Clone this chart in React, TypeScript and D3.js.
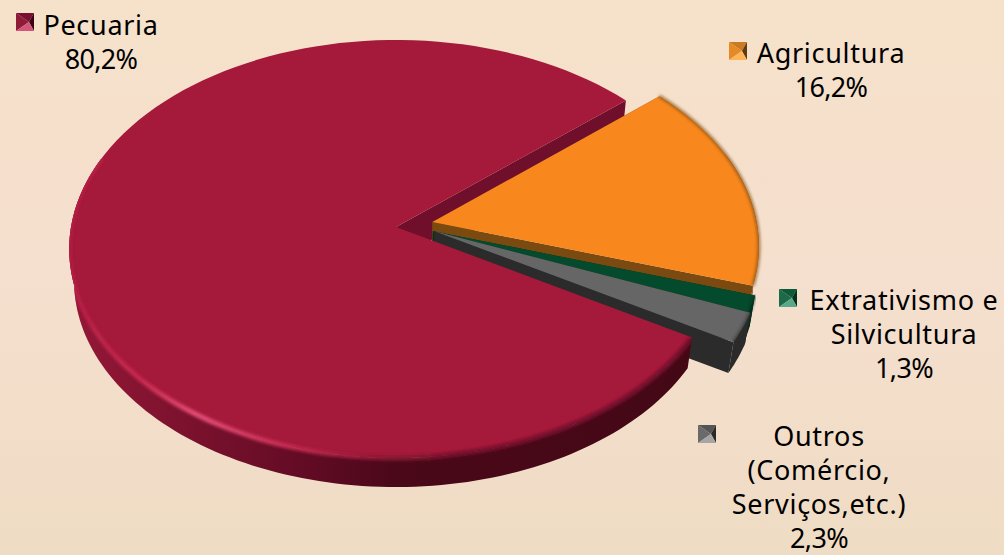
import React, { useMemo } from "react";
import * as d3 from "d3";

const categories = ["Pecuaria", "Agricultura", "Extrativismo e Silvicultura", "Outros"];
const shares = [80.2, 16.2, 1.3, 2.3];
const shareLabels = ["80,2%", "16,2%", "1,3%", "2,3%"];
const labelLines = [["Pecuaria"], ["Agricultura"], ["Extrativismo e", "Silvicultura"], ["Outros", "(Comércio,", "Serviços,etc.)"]];

const topColors = ["#a5193a", "#f8871e", "#044a2c", "#666666"];
const wallColors = ["#6f0f2b", "#7a4a10", "#01301c", "#2b2b2b"];
const explode = [0, 0.115, 0.115, 0.12];
const explodeDeg = [0, 78, 100, 100];

// marker faces: top, left, right, bottom
const markerFaces = [
	["#7a1030", "#8e1a38", "#3c0514", "#d2557a"],
	["#c97a22", "#e58a25", "#5e3a10", "#ffb45a"],
	["#0a5a3a", "#1a6a4a", "#02301c", "#5aa88a"],
	["#555", "#6a6a6a", "#2a2a2a", "#a5a5a5"],
];

const width = 1004;
const height = 555;
const startDeg = 120.4;

// perspective of the pie disc
const apex = [396, 227];
const radiusX = 325;
const radiusY = 206.7;
const tilt = 0.1053;
const vanishY = 2392;
const shrink = 0.985;

const project = (X: number, Y: number): [number, number] => {
	const w = 1 - tilt * Y;
	return [apex[0] + (radiusX * X) / w, apex[1] + (radiusY * Y) / w];
};
const drop = (p: [number, number]): [number, number] => [
	apex[0] + (p[0] - apex[0]) * shrink,
	vanishY + (p[1] - vanishY) * shrink,
];

const labelSpots = [
	{ cx: 101, y: 35, mx: 16, my: 13 },
	{ cx: 831, y: 63, mx: 729, my: 42 },
	{ cx: 904, y: 310, mx: 779, my: 289 },
	{ cx: 819, y: 446, mx: 698, my: 425 },
];
const lineStep = 34;

const line = d3.line<[number, number]>();

function marker(i: number) {
	const s = labelSpots[i];
	const m = 18;
	const c: [number, number] = [s.mx + m * 0.72, s.my + m * 0.5];
	const a: [number, number] = [s.mx, s.my];
	const b: [number, number] = [s.mx + m, s.my];
	const d: [number, number] = [s.mx + m, s.my + m];
	const e: [number, number] = [s.mx, s.my + m];
	const faces = [[a, b, c], [a, c, e], [b, d, c], [e, c, d]] as [number, number][][];
	return (
		<g filter="url(#softer)">
			{faces.map((f, k) => (
				<path key={k} d={line(f) + "Z"} fill={markerFaces[i][k]} />
			))}
		</g>
	);
}

export default function App() {
	const slices = useMemo(() => {
		const start = (startDeg * Math.PI) / 180;
		const full = 2 * Math.PI;
		const arcs = d3
			.pie<number>()
			.sort(null)
			.startAngle(start)
			.endAngle(start + full)(shares);
		return arcs.map((a, i) => {
			// slices after the first wrap past a full turn
			const wrap = a.startAngle >= full ? full : 0;
			const a0 = a.startAngle - wrap;
			const a1 = a.endAngle - wrap;
			const dir = (explodeDeg[i] * Math.PI) / 180;
			const ox = explode[i] * Math.sin(dir);
			const oy = -explode[i] * Math.cos(dir);
			const at = (t: number) => project(ox + Math.sin(t), oy - Math.cos(t));
			const rimBetween = (t0: number, t1: number) =>
				d3.range(0, 121).map((k) => at(t0 + ((t1 - t0) * k) / 120));
			const centre = project(ox, oy);
			const rim = rimBetween(a0, a1);
			const front0 = Math.max(a0, (70 * Math.PI) / 180);
			const front1 = Math.min(a1, (290 * Math.PI) / 180);
			const frontRim = rimBetween(front0, front1);
			const first = at(a0);
			const last = at(a1);
			return {
				i,
				top: line([centre, ...rim]) + "Z",
				rimEdge: line(rim)!,
				frontEdge: line(frontRim)!,
				rimWall: line([...frontRim, ...frontRim.map(drop).reverse()]) + "Z",
				startCut: line([centre, first, drop(first), drop(centre)]) + "Z",
				endCut: line([centre, last, drop(last), drop(centre)]) + "Z",
			};
		});
	}, []);

	const [main, ...rest] = slices;

	return (
		<svg
			width={width}
			height={height}
			viewBox={`0 0 ${width} ${height}`}
			style={{ position: "absolute", left: 0, top: 0 }}
			fontFamily="'Noto Sans', sans-serif"
		>
			<defs>
				<linearGradient id="bg" x1="0" y1="0" x2="0" y2="1">
					<stop offset="0" stopColor="#f6e1ca" />
					<stop offset="0.5" stopColor="#f5dfce" />
					<stop offset="1" stopColor="#efdcc4" />
				</linearGradient>
				<linearGradient id="mainWall" gradientUnits="userSpaceOnUse" x1="68" y1="0" x2="700" y2="0">
					<stop offset="0" stopColor="#951838" />
					<stop offset="0.15" stopColor="#80132f" />
					<stop offset="0.35" stopColor="#660c26" />
					<stop offset="0.52" stopColor="#4a0819" />
					<stop offset="1" stopColor="#440815" />
				</linearGradient>
				<linearGradient id="mainBevel" gradientUnits="userSpaceOnUse" x1="68" y1="0" x2="700" y2="0">
					<stop offset="0" stopColor="#b01c42" />
					<stop offset="0.12" stopColor="#c9284f" />
					<stop offset="0.2" stopColor="#e44c76" />
					<stop offset="0.35" stopColor="#c22a50" />
					<stop offset="0.5" stopColor="#8a1432" />
					<stop offset="0.62" stopColor="#70102a" />
					<stop offset="1" stopColor="#70102a" />
				</linearGradient>
				<filter id="soft" x="-5%" y="-5%" width="110%" height="110%">
					<feGaussianBlur stdDeviation="1.6" />
				</filter>
				<filter id="softer" x="-10%" y="-10%" width="120%" height="120%">
					<feGaussianBlur stdDeviation="0.5" />
				</filter>
				<clipPath id="mainClip">
					<path d={main.top} />
					<path d={main.rimWall} />
				</clipPath>
			</defs>
			<rect width={width} height={height} fill="url(#bg)" />

			{/* back cut of the big slice goes first, the pulled out slices sit on it */}
			<path d={main.endCut} fill={wallColors[0]} />

			{rest.map((s) => (
				<g key={categories[s.i]}>
					<path d={s.startCut} fill={wallColors[s.i]} />
					<path d={s.endCut} fill={wallColors[s.i]} />
					<path d={s.rimWall} fill={wallColors[s.i]} />
					<path d={s.top} fill={topColors[s.i]} />
					<path d={s.rimEdge} fill="none" stroke={wallColors[s.i]} strokeWidth={3} filter="url(#soft)" opacity={0.7} />
				</g>
			))}

			<path d={main.rimWall} fill="url(#mainWall)" />
			<path d={main.top} fill={topColors[0]} />
			<g clipPath="url(#mainClip)">
				<path d={main.frontEdge} fill="none" stroke="url(#mainBevel)" strokeWidth={5} filter="url(#soft)" />
			</g>

			{labelSpots.map((s, i) => (
				<g key={categories[i]}>
					{marker(i)}
					<text fontSize={27} fill="#000" textAnchor="middle">
						{labelLines[i].map((t, k) => (
							<tspan key={k} x={s.cx} y={s.y + k * lineStep} letterSpacing={0.7}>
								{t}
							</tspan>
						))}
						<tspan x={s.cx} y={s.y + labelLines[i].length * lineStep} letterSpacing={-0.7}>
							{shareLabels[i]}
						</tspan>
					</text>
				</g>
			))}
		</svg>
	);
}
